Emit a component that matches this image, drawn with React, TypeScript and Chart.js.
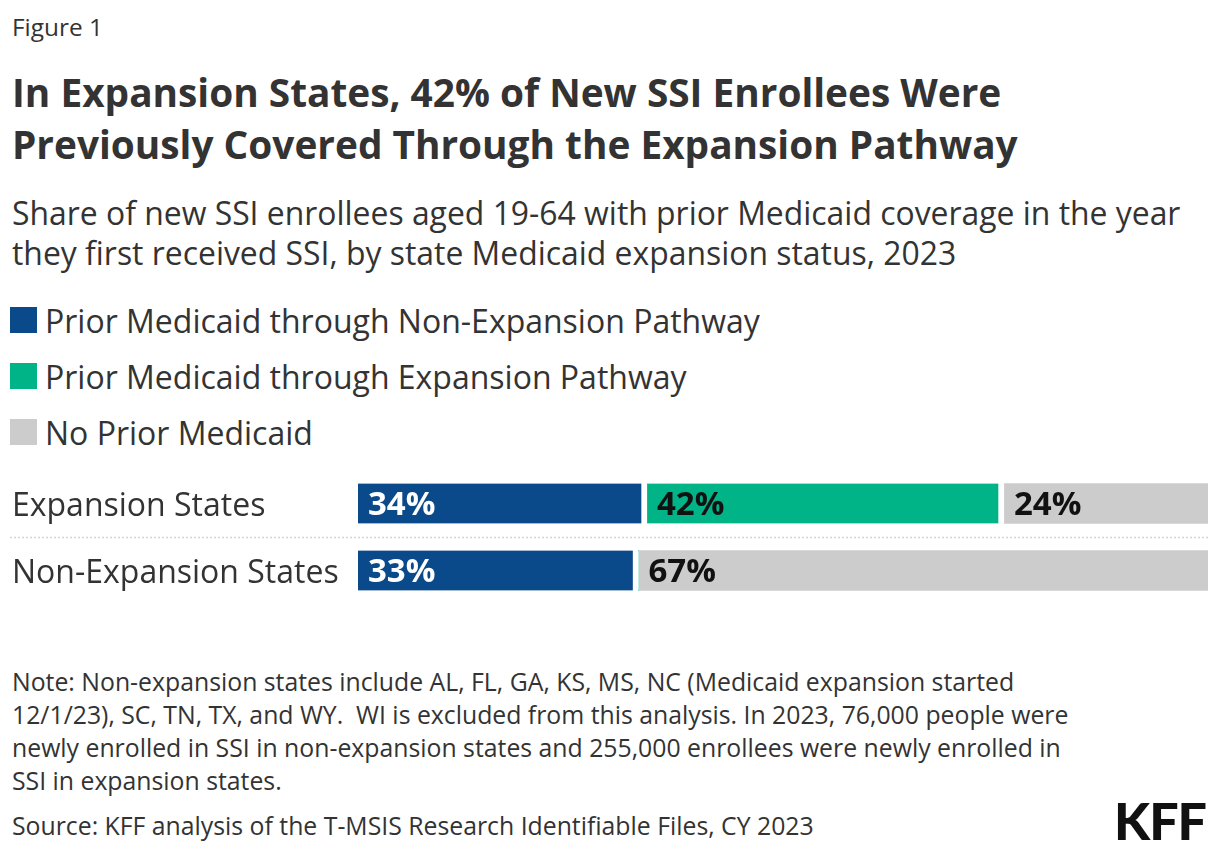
import React, { useEffect, useRef } from "react";
import { Chart, registerables } from "chart.js";

Chart.register(...registerables);

// Categories and stacked series (percent of new SSI enrollees)
const categories = ["Expansion States", "Non-Expansion States"];
const seriesNames = [
  "Prior Medicaid through Non-Expansion Pathway",
  "Prior Medicaid through Expansion Pathway",
  "No Prior Medicaid",
];
const nonExpansionPathway = [34, 33];
const expansionPathway = [42, 0];
const noPriorMedicaid = [24, 67];

const seriesColors = ["#0b4a8a", "#00b487", "#cccccc"];
const valueLabelColors = ["#ffffff", "#111111", "#111111"];

const FONT = "'Open Sans', 'Noto Sans', sans-serif";
const TEXT = "#333333";

const titleLines = [
  "In Expansion States, 42% of New SSI Enrollees Were",
  "Previously Covered Through the Expansion Pathway",
];
const subtitleLines = [
  "Share of new SSI enrollees aged 19-64 with prior Medicaid coverage in the year",
  "they first received SSI, by state Medicaid expansion status, 2023",
];
const noteLines = [
  "Note: Non-expansion states include AL, FL, GA, KS, MS, NC (Medicaid expansion started",
  "12/1/23), SC, TN, TX, and WY.  WI is excluded from this analysis. In 2023, 76,000 people were",
  "newly enrolled in SSI in non-expansion states and 255,000 enrollees were newly enrolled in",
  "SSI in expansion states.",
];
const sourceLine = "Source: KFF analysis of the T-MSIS Research Identifiable Files, CY 2023";

// Draws dotted row separators and the value label inside each segment
const barDecor = {
  id: "barDecor",
  afterDatasetsDraw(chart: any) {
    const { ctx, chartArea } = chart;
    const yScale = chart.scales.y;
    ctx.save();
    ctx.strokeStyle = "#d4d4d4";
    ctx.lineWidth = 1.5;
    ctx.setLineDash([2, 2]);
    for (let i = 1; i < chart.data.labels.length; i++) {
      const y =
        Math.round((yScale.getPixelForValue(i - 1) + yScale.getPixelForValue(i)) / 2) + 0.5;
      ctx.beginPath();
      ctx.moveTo(yScale.left - 2, y);
      ctx.lineTo(chartArea.right, y);
      ctx.stroke();
    }
    ctx.setLineDash([]);
    ctx.font = `bold 33px ${FONT}`;
    ctx.textBaseline = "middle";
    ctx.textAlign = "left";
    chart.data.datasets.forEach((ds: any, di: number) => {
      const meta = chart.getDatasetMeta(di);
      meta.data.forEach((el: any, i: number) => {
        const v = ds.data[i];
        if (!v) return;
        const { x, y, base } = el.getProps(["x", "y", "base"], true);
        ctx.fillStyle = valueLabelColors[di];
        ctx.fillText(`${v}%`, Math.min(x, base) + 10, y + 2);
      });
    });
    ctx.restore();
  },
};

function StackedBars() {
  const ref = useRef<HTMLCanvasElement | null>(null);
  useEffect(() => {
    if (!ref.current) return;
    const values = [nonExpansionPathway, expansionPathway, noPriorMedicaid];
    const chart = new Chart(ref.current, {
      type: "bar",
      data: {
        labels: categories,
        datasets: values.map((data, di) => ({
          label: seriesNames[di],
          data,
          backgroundColor: seriesColors[di],
          borderColor: "#ffffff",
          borderSkipped: false,
          borderWidth: { top: 0, bottom: 0, left: 0, right: di < values.length - 1 ? 6 : 0 },
          barThickness: 40,
        })),
      },
      options: {
        indexAxis: "y",
        responsive: false,
        animation: false,
        devicePixelRatio: 1,
        layout: { padding: { left: 12, right: 12, top: 0, bottom: 0 } },
        plugins: { legend: { display: false }, tooltip: { enabled: false } },
        scales: {
          x: { stacked: true, min: 0, max: 100, display: false },
          y: {
            stacked: true,
            grid: { display: false },
            border: { display: false },
            ticks: {
              crossAlign: "far",
              padding: 0,
              labelOffset: 3,
              color: TEXT,
              font: { family: FONT, size: 32 },
            },
            afterFit: (scale: any) => {
              scale.width = 346;
              scale.paddingTop = 0;
              scale.paddingBottom = 0;
            },
          },
        },
      } as any,
      plugins: [barDecor],
    });
    return () => chart.destroy();
  }, []);
  return (
    <canvas
      ref={ref}
      width={1220}
      height={134}
      style={{ position: "absolute", left: 0, top: 470, width: 1220, height: 134 }}
    />
  );
}

function Line({ text, top, size, lh, weight = 400, left = 12, color = TEXT, spacing = 0 }: any) {
  return (
    <div
      style={{
        position: "absolute",
        left,
        top: top - lh / 2,
        fontSize: size,
        lineHeight: `${lh}px`,
        fontWeight: weight,
        letterSpacing: spacing,
        color,
        whiteSpace: "pre",
        fontFamily: FONT,
      }}
    >
      {text}
    </div>
  );
}

export default function App() {
  useEffect(() => {
    document.body.style.margin = "0";
  }, []);
  return (
    <div style={{ position: "relative", width: 1220, height: 852, background: "#fff", overflow: "hidden" }}>
      <Line text="Figure 1" top={27} size={24.4} lh={30} />
      {titleLines.map((t, i) => (
        <Line key={t} text={t} top={92 + i * 52} size={38.8} lh={52} weight={700} />
      ))}
      {subtitleLines.map((t, i) => (
        <Line key={t} text={t} top={213 + i * 40} size={31.9} lh={40} />
      ))}
      {seriesNames.map((name, i) => (
        <React.Fragment key={name}>
          <div
            style={{
              position: "absolute",
              left: 10,
              top: 307 + i * 56,
              width: 27,
              height: 26,
              background: seriesColors[i],
            }}
          />
          <Line text={name} top={321 + i * 56} size={32} lh={40} left={45} />
        </React.Fragment>
      ))}
      <StackedBars />
      {noteLines.map((t, i) => (
        <Line key={t} text={t} top={681 + i * 33} size={24.8} lh={33} />
      ))}
      <Line text={sourceLine} top={825} size={24.8} lh={33} />
      <div
        style={{
          position: "absolute",
          left: 1114,
          top: 792,
          fontFamily: "Lato, sans-serif",
          fontWeight: 900,
          fontSize: 52,
          lineHeight: "56px",
          letterSpacing: -1,
          color: "#111",
        }}
      >
        KFF
      </div>
    </div>
  );
}
